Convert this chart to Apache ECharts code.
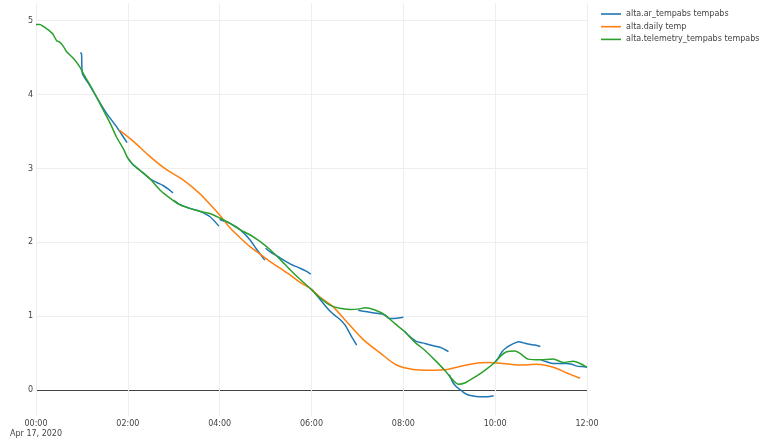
<!DOCTYPE html>
<html>
<head>
<meta charset="utf-8">
<script src="https://cdn.jsdelivr.net/npm/echarts@6/dist/echarts.min.js"></script>
<style>
  html, body { margin: 0; padding: 0; background: #fff; }
  #chart { width: 762px; height: 441px; }
</style>
</head>
<body>
<div id="chart"></div>
<script>
// Time axis is in minutes after midnight (Apr 17, 2020), 00:00 to 12:00.
const timeTicks = ['00:00', '02:00', '04:00', '06:00', '08:00', '10:00', '12:00'];
const tickStepMinutes = 120;
const dateLabel = 'Apr 17, 2020';
const yTicks = [0, 1, 2, 3, 4, 5];

const seriesNames = [
  'alta.ar_tempabs tempabs',
  'alta.daily temp',
  'alta.telemetry_tempabs tempabs'
];

// Hourly runs of the ar_tempabs estimate: [minute, value]
const arTempabsRuns = [
  [[58, 4.57], [59.5, 4.55], [60.5, 4.29], [70, 4.13], [79, 3.97], [92, 3.75], [105, 3.57], [112, 3.46], [119, 3.35]],
  [[120, 3.14], [127, 3.05], [140, 2.94], [149, 2.86], [158, 2.81], [166, 2.77], [173, 2.72], [179, 2.67]],
  [[180, 2.57], [188, 2.51], [201, 2.46], [214, 2.42], [227, 2.35], [239, 2.22]],
  [[240, 2.31], [253, 2.26], [267, 2.17], [280, 2.03], [288, 1.91], [299, 1.76]],
  [[300, 1.92], [306, 1.87], [319, 1.79], [332, 1.71], [345, 1.65], [353, 1.61], [359, 1.57]],
  [[360, 1.37], [371, 1.23], [384, 1.07], [392, 1.00], [398, 0.95], [404, 0.88], [412, 0.73], [419, 0.61]],
  [[421, 1.08], [433, 1.06], [445, 1.04], [455, 1.02], [462, 0.97], [469, 0.97], [476, 0.98], [480, 0.985]],
  [[481, 0.80], [490, 0.71], [497, 0.66], [505, 0.64], [515, 0.61], [528, 0.58], [534, 0.55], [539, 0.52]],
  [[540, 0.21], [545, 0.10], [550, 0.04], [555, 0.0], [560, -0.04], [566, -0.07], [575, -0.085], [585, -0.09], [593, -0.085], [598, -0.075]],
  [[600, 0.38], [605, 0.45], [609, 0.52], [614, 0.57], [620, 0.61], [626, 0.64], [631, 0.655], [637, 0.64], [645, 0.62], [652, 0.61], [659, 0.59]],
  [[660, 0.41], [668, 0.38], [676, 0.36], [685, 0.36], [693, 0.36], [700, 0.35], [707, 0.325], [714, 0.32], [720, 0.31]]
];

// Daily temperature curve: [minute, value]
const dailyTemp = [
  [109, 3.52], [127, 3.37], [149, 3.16], [171, 2.98], [193, 2.84], [214, 2.66], [227, 2.52],
  [240, 2.37], [254, 2.19], [267, 2.06], [280, 1.94], [293, 1.84], [306, 1.74], [319, 1.65],
  [332, 1.56], [345, 1.46], [358, 1.38], [371, 1.26], [388, 1.13], [406, 0.925], [428, 0.68],
  [450, 0.50], [471, 0.34], [493, 0.28], [515, 0.27], [537, 0.28], [558, 0.33], [580, 0.37],
  [593, 0.375], [611, 0.36], [632, 0.34], [654, 0.35], [676, 0.31], [693, 0.235], [711, 0.16]
];

// Telemetry readings: [minute, value]
const telemetryTempabs = [
  [0, 4.95], [5, 4.95], [10, 4.92], [14, 4.89], [18, 4.86], [22, 4.82], [27, 4.73], [31, 4.71],
  [36, 4.65], [40, 4.58], [49, 4.49], [57, 4.38], [62, 4.28], [70, 4.14], [79, 3.97], [88, 3.79],
  [97, 3.61], [105, 3.43], [114, 3.27], [120, 3.14], [127, 3.05], [140, 2.94], [149, 2.86],
  [162, 2.71], [175, 2.60], [188, 2.51], [201, 2.46], [214, 2.42], [227, 2.39], [240, 2.33],
  [253, 2.26], [267, 2.17], [280, 2.10], [293, 2.01], [306, 1.90], [319, 1.77], [332, 1.63],
  [345, 1.50], [358, 1.38], [371, 1.25], [384, 1.15], [397, 1.107], [410, 1.093], [423, 1.10],
  [430, 1.115], [443, 1.084], [456, 1.016], [469, 0.90], [482, 0.79], [495, 0.65], [508, 0.54],
  [521, 0.41], [534, 0.27], [545, 0.135], [552, 0.08], [561, 0.10], [574, 0.18], [587, 0.27],
  [600, 0.38], [608, 0.47], [615, 0.52], [626, 0.53], [632, 0.50], [643, 0.42], [659, 0.41],
  [676, 0.42], [689, 0.375], [702, 0.39], [711, 0.36], [720, 0.31]
];

const colors = ['#1f77b4', '#ff7f0e', '#2ca02c'];
const fontFamily = 'DejaVu Sans';
const textColor = '#444';

// Join the hourly runs into one line, with an empty value between runs so they stay separate.
const arTempabs = [];
arTempabsRuns.forEach((run, i) => {
  if (i > 0) arTempabs.push([run[0][0] - 0.5, null]);
  run.forEach(p => arTempabs.push(p));
});

function lineSeries(name, data, color) {
  return {
    name: name,
    type: 'line',
    data: data,
    showSymbol: false,
    symbol: 'none',
    smooth: 0.25,
    connectNulls: false,
    color: color,
    lineStyle: { width: 1.5, color: color },
    emphasis: { disabled: true }
  };
}

const chart = echarts.init(document.getElementById('chart'), null, { renderer: 'canvas' });
chart.setOption({
  animation: false,
  backgroundColor: '#fff',
  textStyle: { fontFamily: fontFamily },
  grid: { left: 36, right: 175, top: 3, bottom: 25, containLabel: false },
  legend: {
    orient: 'vertical',
    left: 596,
    top: 5,
    padding: 5,
    itemWidth: 20,
    itemHeight: 10,
    itemGap: 4.7,
    icon: 'path://M0,0H20V1.6H0Z',
    textStyle: { fontSize: 8, color: textColor, fontFamily: fontFamily },
    data: seriesNames
  },
  xAxis: {
    type: 'value',
    min: 0,
    max: 720,
    interval: tickStepMinutes,
    axisLine: { show: false, onZero: false },
    axisTick: { show: false },
    splitLine: { show: true, lineStyle: { color: '#eee', width: 1 } },
    axisLabel: {
      show: true,
      margin: 3,
      fontSize: 8,
      lineHeight: 10,
      color: textColor,
      fontFamily: fontFamily,
      showMinLabel: true,
      showMaxLabel: true,
      formatter: function (v) {
        const label = timeTicks[Math.round(v / tickStepMinutes)];
        return v === 0 ? label + '\n' + dateLabel : label;
      }
    }
  },
  yAxis: {
    type: 'value',
    min: -0.35,
    max: 5.24,
    axisLine: { show: false },
    axisTick: { show: false, customValues: yTicks },
    splitLine: {
      show: true,
      lineStyle: { color: ['#444', '#eee', '#eee', '#eee', '#eee', '#eee'], width: 1 }
    },
    axisLabel: {
      show: true,
      customValues: yTicks,
      margin: 3,
      fontSize: 8,
      color: textColor,
      fontFamily: fontFamily
    }
  },
  series: [
    lineSeries(seriesNames[0], arTempabs, colors[0]),
    lineSeries(seriesNames[1], dailyTemp, colors[1]),
    lineSeries(seriesNames[2], telemetryTempabs, colors[2])
  ]
});
</script>
</body>
</html>
